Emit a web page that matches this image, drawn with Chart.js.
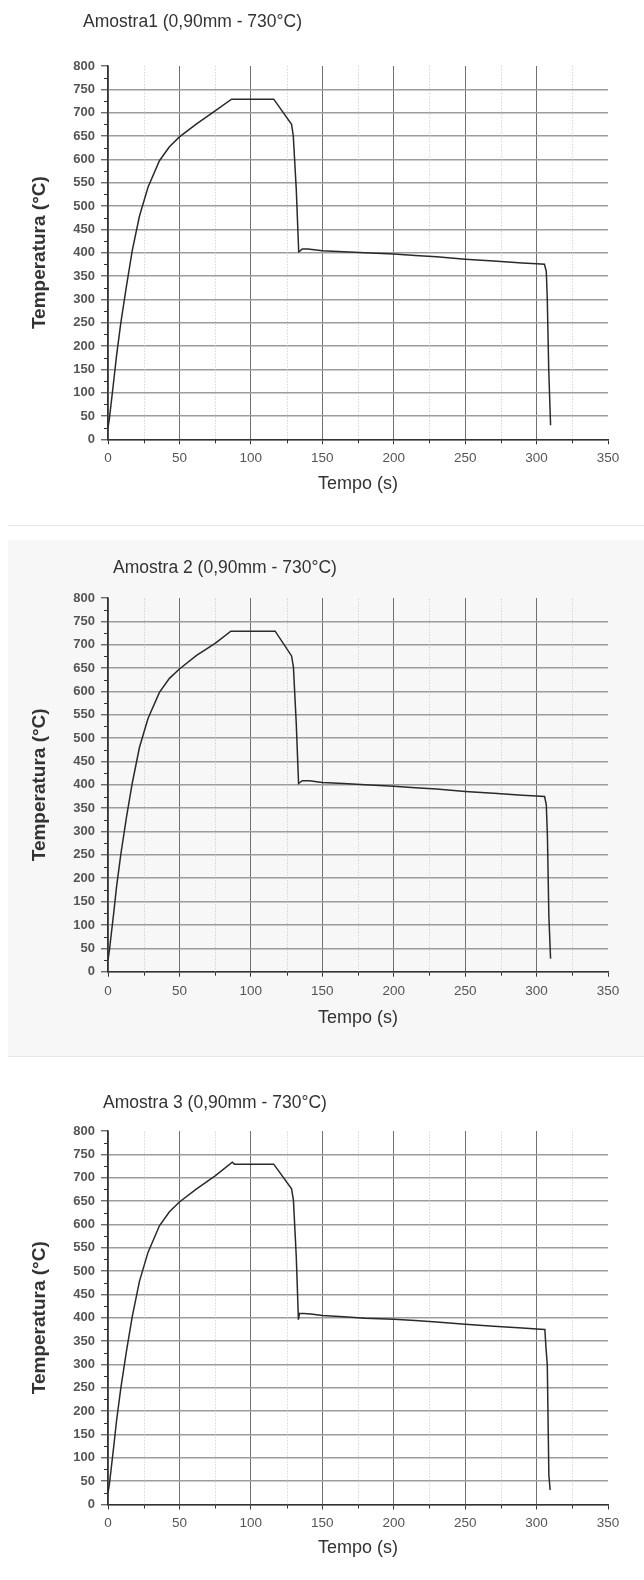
<!DOCTYPE html>
<html lang="pt">
<head>
<meta charset="utf-8">
<title>Amostras 0,90mm - 730°C</title>
<script src="https://cdn.jsdelivr.net/npm/chart.js@4.4.1/dist/chart.umd.min.js"></script>
<style>
    html, body { margin: 0; padding: 0; background: #fff; }
    body { width: 644px; height: 1580px; position: relative; overflow: hidden;
           font-family: "Liberation Sans", Arial, sans-serif; }
    .painel { position: absolute; left: 0; width: 644px; }
    .painel canvas { display: block; }
    .titulo { position: absolute; font-size: 17.5px; line-height: 1; color: #333; white-space: nowrap; }
    .sep { position: absolute; left: 8px; right: 0; height: 1px; background: #e6e6e6; }
    .fundo { position: absolute; left: 8px; right: 0; background: #f7f7f7; }
</style>
</head>
<body>

<div class="sep" style="top:525px"></div>
<div class="fundo" style="top:540px; height:516px"></div>
<div class="sep" style="top:1056px"></div>

<div class="painel" style="top:0; height:520px"><canvas id="amostra1" width="644" height="520"></canvas></div>
<div class="painel" style="top:530px; height:526px"><canvas id="amostra2" width="644" height="526"></canvas></div>
<div class="painel" style="top:1060px; height:520px"><canvas id="amostra3" width="644" height="520"></canvas></div>

<div class="titulo" style="left:83px; top:13px">Amostra1 (0,90mm - 730°C)</div>
<div class="titulo" style="left:113px; top:559px">Amostra 2 (0,90mm - 730°C)</div>
<div class="titulo" style="left:103px; top:1094px">Amostra 3 (0,90mm - 730°C)</div>

<script>
// -------------------------
//      CURVAS (tempo s / temperatura °C)
// -------------------------

const tempo1 = [0, 1, 2.5, 4, 6, 9, 13, 17, 22, 28, 36, 43, 50, 62, 75, 86.5, 116, 128.5, 129.7, 131.8, 133.5, 134.5, 136, 140, 150, 165, 180, 200, 215, 230, 250, 270, 290, 300, 305.5, 306.8, 307.5, 308.5, 309.8];
const temp1  = [25, 45, 85, 125, 180, 250, 330, 405, 478, 540, 597, 627, 648, 676, 704, 729, 729, 675, 650, 535, 402, 404, 408, 408, 404, 402, 400, 397, 394, 391, 386, 382, 378, 376, 375, 360, 300, 150, 30];

const tempo2 = [0, 1, 2.5, 4, 6, 9, 13, 17, 22, 28, 36, 43, 50, 62, 75, 86, 117, 128.5, 129.8, 131.8, 133.4, 134.3, 136, 141, 150, 165, 180, 200, 215, 230, 250, 270, 290, 300, 305.6, 306.8, 307.6, 308.6, 309.8];
const temp2  = [25, 46, 86, 126, 182, 252, 332, 404, 480, 542, 598, 628, 648, 677, 703, 729, 729, 676, 652, 530, 403, 405, 409, 409, 405, 403, 400, 397, 394, 391, 386, 382, 378, 376, 375, 358, 290, 120, 28];

const tempo3 = [0, 1, 2.5, 4, 6, 9, 13, 17, 22, 28, 36, 43, 50, 62, 75, 87, 88.5, 116, 128.5, 129.8, 131.8, 133.3, 134, 137, 142, 150, 165, 180, 200, 215, 230, 250, 270, 290, 300, 305.8, 306.6, 307.5, 308.6, 309.5];
const temp3  = [25, 44, 84, 124, 180, 250, 330, 403, 478, 540, 597, 627, 648, 676, 704, 733, 729, 729, 676, 652, 530, 396, 409, 409, 408, 405, 402, 399, 397, 394, 391, 386, 382, 378, 376, 375, 335, 300, 63, 31];

// eixos
const escalaX = { min: 0, max: 350, passo: 50, passoMenor: 25 };
const escalaY = { min: 0, max: 800, passo: 50, passoMenor: 25 };

// -------------------------

Chart.defaults.font.family = '"Liberation Sans", Arial, sans-serif';

// traços menores dos eixos e grade pontilhada intermediária
const marcasMenores = {
    id: "marcasMenores",
    beforeDatasetsDraw(chart) {
        const { ctx, chartArea, scales: { x, y } } = chart;
        ctx.save();
        ctx.lineWidth = 1;

        ctx.strokeStyle = "#c4c4c4";
        ctx.setLineDash([1, 2]);
        for (let v = escalaX.min + escalaX.passoMenor; v < escalaX.max; v += escalaX.passo) {
            const px = Math.round(x.getPixelForValue(v)) + 0.5;
            ctx.beginPath();
            ctx.moveTo(px, chartArea.bottom);
            ctx.lineTo(px, chartArea.top);
            ctx.stroke();
        }
        ctx.setLineDash([]);

        ctx.strokeStyle = "#333";
        for (let v = escalaX.min + escalaX.passoMenor; v < escalaX.max; v += escalaX.passo) {
            const px = Math.round(x.getPixelForValue(v)) + 0.5;
            ctx.beginPath();
            ctx.moveTo(px, chartArea.bottom);
            ctx.lineTo(px, chartArea.bottom + 4);
            ctx.stroke();
        }
        for (let v = escalaY.min + escalaY.passoMenor; v < escalaY.max; v += escalaY.passo) {
            const py = Math.round(y.getPixelForValue(v)) + 0.5;
            ctx.beginPath();
            ctx.moveTo(chartArea.left, py);
            ctx.lineTo(chartArea.left - 4, py);
            ctx.stroke();
        }
        ctx.restore();
    }
};

function buildChart(id, tempo, temp, layout) {
    const ctx = document.getElementById(id).getContext("2d");

    return new Chart(ctx, {
        type: "line",
        data: {
            datasets: [{
                data: tempo.map((t, i) => ({ x: t, y: temp[i] })),
                borderColor: "#2a2a2a",
                borderWidth: 1.5,
                pointRadius: 0,
                tension: 0,
                fill: false
            }]
        },
        options: {
            responsive: false,
            animation: false,
            layout: { padding: { top: layout.topo, right: 36, left: 0, bottom: 0 } },
            plugins: { legend: { display: false }, tooltip: { enabled: false } },
            scales: {
                x: {
                    type: "linear",
                    min: escalaX.min,
                    max: escalaX.max,
                    afterFit: s => { s.height = layout.alturaX; },
                    ticks: { stepSize: escalaX.passo, autoSkip: false, maxRotation: 0, padding: 6,
                             color: "#555", font: { size: 13.5 } },
                    grid: {
                        color: c => c.tick && c.tick.value === escalaX.max ? "rgba(0,0,0,0)" : "#707070",
                        lineWidth: 1,
                        tickLength: 5,
                        tickColor: "#333",
                        tickWidth: 1
                    },
                    border: { color: "#333", width: 1.5 },
                    title: { display: true, text: "Tempo (s)", color: "#333",
                             font: { size: 18 }, padding: { top: 0, bottom: layout.tituloX } }
                },
                y: {
                    min: escalaY.min,
                    max: escalaY.max,
                    afterFit: s => { s.width = 108; },
                    ticks: { stepSize: escalaY.passo, autoSkip: false, padding: 6,
                             color: "#555", font: { size: 13, weight: "bold" } },
                    grid: {
                        color: c => c.tick && c.tick.value === escalaY.max ? "rgba(0,0,0,0)" : "#9c9c9c",
                        lineWidth: 1.6,
                        tickLength: 7,
                        tickColor: "#333",
                        tickWidth: 1
                    },
                    border: { color: "#333", width: 1.5 },
                    title: { display: true, text: "Temperatura (°C)", color: "#333",
                             font: { size: 19, weight: "bold" }, padding: { top: 28, bottom: 0 } }
                }
            }
        },
        plugins: [marcasMenores]
    });
}

buildChart("amostra1", tempo1, temp1, { topo: 66, alturaX: 80.7, tituloX: 25.5 });
buildChart("amostra2", tempo2, temp2, { topo: 68, alturaX: 84.3, tituloX: 27.5 });
buildChart("amostra3", tempo3, temp3, { topo: 71, alturaX: 75.5, tituloX: 21.5 });
</script>
</body>
</html>
